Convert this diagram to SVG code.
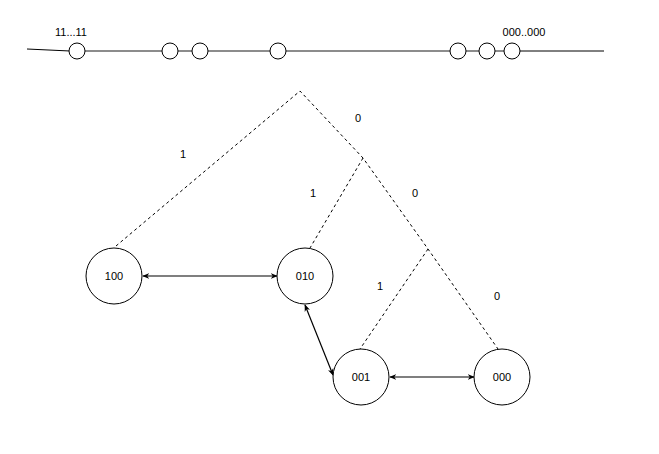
<svg xmlns="http://www.w3.org/2000/svg" width="659" height="454" viewBox="0 0 659 454">
<defs>
<marker id="ah" viewBox="0 0 10 10" refX="9" refY="5" markerWidth="7" markerHeight="7" orient="auto-start-reverse" markerUnits="userSpaceOnUse">
<path d="M0,1 L10,5 L0,9 L3,5 Z" fill="#000"/>
</marker>
</defs>
<style>
text{font-family:"Liberation Sans",Arial,sans-serif;font-size:11px;fill:#000;text-anchor:middle;dominant-baseline:central}
.dot{fill:#fff;stroke:#000;stroke-width:1}
.node{fill:#fff;stroke:#000;stroke-width:1}
.tree{fill:none;stroke:#000;stroke-width:1;stroke-dasharray:3 3}
.arr{fill:none;stroke:#000;stroke-width:1.2;marker-start:url(#ah);marker-end:url(#ah)}
</style>
<g id="line">
<path d="M27,49 L70,51" fill="none" stroke="#000" stroke-width="1"/>
<path d="M70,51 L520,51" fill="none" stroke="#666" stroke-width="1.3"/>
<path d="M520,51 L604,51" fill="none" stroke="#000" stroke-width="1"/>
<circle class="dot" cx="77" cy="51" r="8"/>
<circle class="dot" cx="170" cy="51" r="8"/>
<circle class="dot" cx="200" cy="51" r="8"/>
<circle class="dot" cx="278" cy="51" r="8"/>
<circle class="dot" cx="458" cy="51" r="8"/>
<circle class="dot" cx="487" cy="51" r="8"/>
<circle class="dot" cx="512" cy="51" r="8"/>
<text x="71" y="32">11...11</text>
<text x="524" y="32">000..000</text>
</g>
<g id="connectors">
<path class="tree" d="M116,246 L300,91 L363,158 L428,249 L498,349"/>
<path class="tree" d="M363,158 L310,248"/>
<path class="tree" d="M428,249 L360,349"/>
<path class="arr" d="M143,276 L277,276"/>
<path class="arr" d="M305,305 L333,375"/>
<path class="arr" d="M390,377 L474,377"/>
<text x="358" y="118">0</text>
<text x="183" y="154">1</text>
<text x="313" y="193">1</text>
<text x="415" y="193">0</text>
<text x="380" y="286">1</text>
<text x="497" y="296">0</text>
</g>
<g id="n100"><circle class="node" cx="114" cy="276" r="28"/><text x="114" y="276">100</text></g>
<g id="n010"><circle class="node" cx="305" cy="276" r="28"/><text x="305" y="276">010</text></g>
<g id="n001"><circle class="node" cx="361" cy="377" r="28"/><text x="361" y="377">001</text></g>
<g id="n000"><circle class="node" cx="502" cy="377" r="28"/><text x="502" y="377">000</text></g>
</svg>
